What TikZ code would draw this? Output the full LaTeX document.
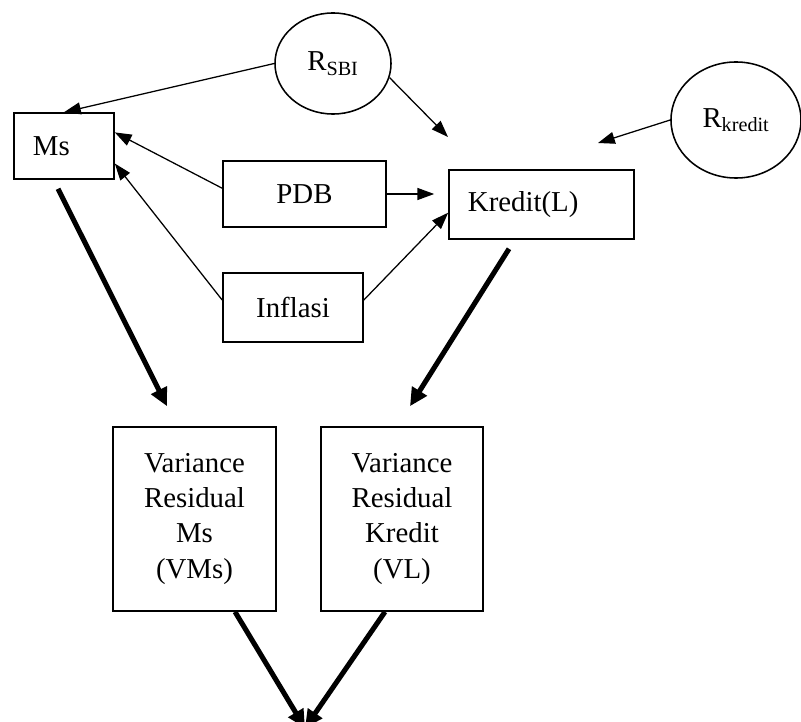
\documentclass[tikz,border=0pt]{standalone}
\usepackage{fontspec}
\setmainfont{Liberation Serif}
\usetikzlibrary{arrows.meta, positioning, calc, shapes.geometric}

\begin{document}
\begin{tikzpicture}[x=0.025cm, y=-0.025cm,
    font=\fontsize{20.5pt}{24.9pt}\selectfont,
    box/.style={draw, line width=1.1pt, rectangle, inner sep=0pt},
    oval/.style={draw, line width=1.1pt, ellipse, inner sep=0pt},
    smallarrow/.style={line width=0.9pt, -{Triangle[length=0.42cm, width=0.3cm]}},
    bigarrow/.style={line width=3.6pt, -{Triangle[length=0.45cm, width=0.42cm]}}]
    \useasboundingbox (0,0) rectangle (801,722);

    % Interest rates
    \node[oval, minimum width=2.9cm, minimum height=2.525cm] (rsbi) at (333,63.5) {R\textsubscript{SBI}};
    \node[oval, minimum width=3.25cm, minimum height=2.9cm] (rkredit) at (736,120) {R\textsubscript{kredit}};

    % Money and credit
    \node[box, minimum width=2.5cm, minimum height=1.65cm, text width=1.55cm, align=left] (ms) at (64,146) {Ms};
    \node[box, minimum width=4.625cm, minimum height=1.725cm, text width=3.675cm, align=left] (kredit) at (541.5,204.5) {Kredit(L)};

    % Macro variables
    \node[box, minimum width=4.075cm, minimum height=1.65cm] (pdb) at (304.5,194) {PDB};
    \node[box, minimum width=3.5cm, minimum height=1.725cm] (infl) at (293,307.5) {Inflasi};

    % Residual variances
    \node[box, minimum width=4.075cm, minimum height=4.6cm, align=center] (vms) at (194.5,519) {Variance\\Residual\\Ms\\(VMs)};
    \node[box, minimum width=4.05cm, minimum height=4.6cm, align=center] (vl) at (402,519) {Variance\\Residual\\Kredit\\(VL)};

    % Free ends
    \coordinate (kin1) at (448,137);
    \coordinate (kin2) at (598,143);
    \coordinate (sink) at (305,728);

    % Thin arrows
    \draw[smallarrow] (rsbi.west) -- (ms.north);
    \draw[smallarrow] (rsbi.-14) -- (kin1);
    \draw[smallarrow] (rkredit.west) -- (kin2);
    \draw[smallarrow] (pdb.176) -- (ms.15);
    \draw[smallarrow] (infl.174) -- (ms.-19);
    \draw[smallarrow, shorten >=0.35cm] (pdb.east) -- (pdb.east -| kredit.west);
    \draw[smallarrow] (infl.6) -- (kredit.185);

    % Thick arrows
    \draw[bigarrow] ($(ms.south)+(-6,9)$) -- ($(vms.north)+(-27.5,-20)$);
    \draw[bigarrow] ($(kredit.south)+(-32.5,9)$) -- ($(vl.north)+(8,-20)$);
    \draw[bigarrow] ($(vms.south)+(40.5,0)$) -- (sink);
    \draw[bigarrow] ($(vl.south)+(-17,0)$) -- (sink);
\end{tikzpicture}
\end{document}
